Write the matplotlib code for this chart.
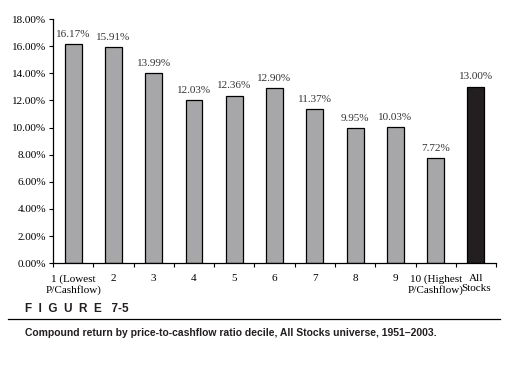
import matplotlib.pyplot as plt
import numpy as np
from matplotlib.lines import Line2D

categories = ['1 (Lowest\nP/Cashflow)', '2', '3', '4', '5', '6', '7', '8', '9',
              '10 (Highest\nP/Cashflow)', 'All\nStocks']
returns = [16.17, 15.91, 13.99, 12.03, 12.36, 12.90, 11.37, 9.95, 10.03, 7.72, 13.00]
bar_colors = ['#a7a7a9'] * 10 + ['#231f20']

serif = ['Liberation Serif', 'DejaVu Serif']
narrow = ['Liberation Sans Narrow', 'Liberation Sans', 'DejaVu Sans']

fig = plt.figure(figsize=(5.3, 3.68), dpi=100)
ax = fig.add_axes([0.1, 0.285, 0.836, 0.663])

x = np.arange(len(categories))
ax.bar(x, returns, width=0.42, color=bar_colors, edgecolor='black', linewidth=0.9)

# value labels above the bars
for xi, val in zip(x, returns):
    ax.text(xi, val + 0.4, f'{val:.2f}%', ha='center', va='bottom',
            fontsize=8, family=serif, color='#333333')

ax.set_xlim(-0.5, len(categories) - 0.5)
ax.set_ylim(0, 18)
ax.set_yticks(np.arange(0, 18.1, 2))
ax.set_yticklabels([f'{v:.2f}%' for v in np.arange(0, 18.1, 2)], family=serif, fontsize=8)

# category labels in the middle, tick marks between categories
ax.set_xticks(x)
ax.set_xticklabels(categories, family=serif, fontsize=8, linespacing=1.15)
ax.tick_params(axis='x', which='major', length=0, pad=8)
ax.set_xticks(np.arange(-0.5, len(categories)), minor=True)
ax.tick_params(axis='x', which='minor', length=3, direction='out', width=0.8)
ax.tick_params(axis='y', length=3, width=0.8, pad=2)

for side in ['top', 'right']:
    ax.spines[side].set_visible(False)
for side in ['left', 'bottom']:
    ax.spines[side].set_linewidth(0.9)

# figure caption
fig.text(0.047, 0.160, 'F  I  G  U  R  E   7-5', fontsize=8.5, fontweight='bold',
         family=narrow, va='center', color='#231f20')
fig.add_artist(Line2D([0.015, 0.943], [0.133, 0.133], color='black', linewidth=0.9,
                      transform=fig.transFigure))
fig.text(0.047, 0.095, 'Compound return by price-to-cashflow ratio decile, All Stocks universe, 1951\u20132003.',
         fontsize=7.5, fontweight='bold', family=narrow, va='center', color='#231f20')

fig.savefig('out.png', dpi=100)
